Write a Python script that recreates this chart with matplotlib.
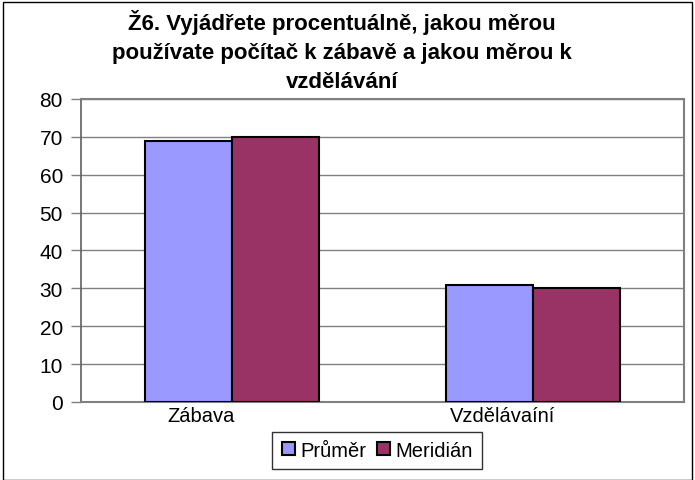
import matplotlib.pyplot as plt
import numpy as np

plt.rcParams['font.family'] = ['Liberation Sans', 'DejaVu Sans']

# Data
categories = ["Zábava", "Vzdělávaíní"]
prumer = [69, 31]
meridian = [70, 30]
series_names = ["Průměr", "Meridián"]

title = ("Ž6. Vyjádřete procentuálně, jakou měrou\n"
         "používate počítač k zábavě a jakou měrou k\n"
         "vzdělávání")

fig = plt.figure(figsize=(6.95, 4.81), dpi=100)
ax = fig.add_axes([0.1165, 0.1622, 0.8675, 0.630])

ind = np.arange(len(categories))
width = 0.288
ax.bar(ind - width / 2, prumer, width, color="#9999FF", edgecolor="black",
       linewidth=1.5, label=series_names[0], zorder=3)
ax.bar(ind + width / 2, meridian, width, color="#993366", edgecolor="black",
       linewidth=1.5, label=series_names[1], zorder=3)

ax.set_xlim(-0.5, 1.5)
ax.set_ylim(0, 80)
ax.set_yticks(range(0, 81, 10))
ax.yaxis.grid(True, color="#808080", linewidth=1, zorder=0)

# x labels sit a bit left of the bars, as in the original
ax.set_xticks(ind - 0.1)
ax.set_xticklabels(categories, fontsize=14.5)
ax.tick_params(axis="x", length=0, pad=3)
ax.tick_params(axis="y", labelsize=15, length=7, width=1, color="#808080", pad=6)

for side in ["top", "right", "bottom"]:
    ax.spines[side].set_color("#808080")
    ax.spines[side].set_linewidth(1.5)
ax.spines["left"].set_color("#606060")
ax.spines["left"].set_linewidth(1.2)

fig.text(0.492, 0.98, title, ha="center", va="top", fontsize=16,
         fontweight="bold", linespacing=1.5)

leg = fig.legend(loc="center", bbox_to_anchor=(0.543, 0.062), ncol=2,
                 fontsize=14.5, frameon=True, fancybox=False, edgecolor="black",
                 handlelength=0.65, handleheight=0.65, handletextpad=0.3,
                 columnspacing=0.5, borderpad=0.45)
leg.get_frame().set_linewidth(1)

# outer chart border
fig.patches.append(plt.Rectangle((0.004, 0.0), 0.992, 0.994, transform=fig.transFigure,
                                 fill=False, edgecolor="black", linewidth=1))

fig.savefig("out.png", dpi=100)
